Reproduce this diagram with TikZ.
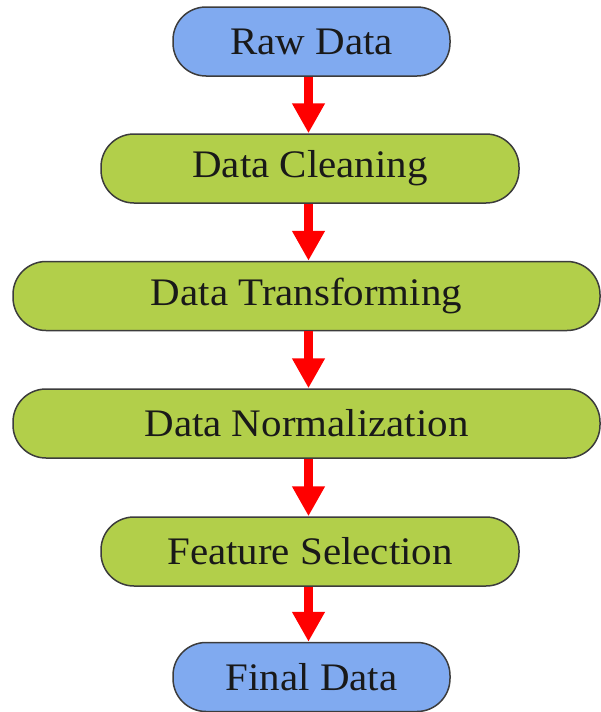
\documentclass[tikz,border=0pt]{standalone}
\usepackage{fontspec}
\setmainfont[FakeStretch=1.05]{Liberation Serif}
\usetikzlibrary{arrows.meta}
\definecolor{stageblue}{RGB}{128,170,240}
\definecolor{stagegreen}{RGB}{178,207,74}
\definecolor{edgegray}{RGB}{60,60,60}
\definecolor{inkdark}{RGB}{25,25,25}
\tikzset{
  stagebox/.style={draw=edgegray, line width=1.5pt, rounded corners=33pt,
    minimum height=69pt, inner sep=0pt, text=inkdark,
    font=\fontsize{39}{45}\selectfont},
  endbox/.style={stagebox, fill=stageblue, minimum width=277pt},
  midbox/.style={stagebox, fill=stagegreen, minimum width=418pt},
  widebox/.style={stagebox, fill=stagegreen, minimum width=587pt},
  flow/.style={draw=red, line width=9pt,
    -{Triangle[width=31pt,length=30pt]}}
}
\begin{document}
\begin{tikzpicture}[x=1pt,y=-1pt]
  \useasboundingbox (0,0) rectangle (601,712);
  \node[endbox]  (raw)   at (311.5,41.5)  {Raw Data};
  \node[midbox]  (clean) at (310,168.5)   {Data Cleaning};
  \node[widebox] (trans) at (306.5,296)   {Data Transforming};
  \node[widebox] (norm)  at (306.5,423.5) {Data Normalization};
  \node[midbox]  (feat)  at (310,551.5)   {Feature Selection};
  \node[endbox]  (final) at (311.5,677)   {Final Data};
  \foreach \a/\b in {raw/clean, clean/trans, trans/norm, norm/feat, feat/final}
    \draw[flow] (\a.south -| 308.5,0) -- (\b.north -| 308.5,0);
\end{tikzpicture}
\end{document}
